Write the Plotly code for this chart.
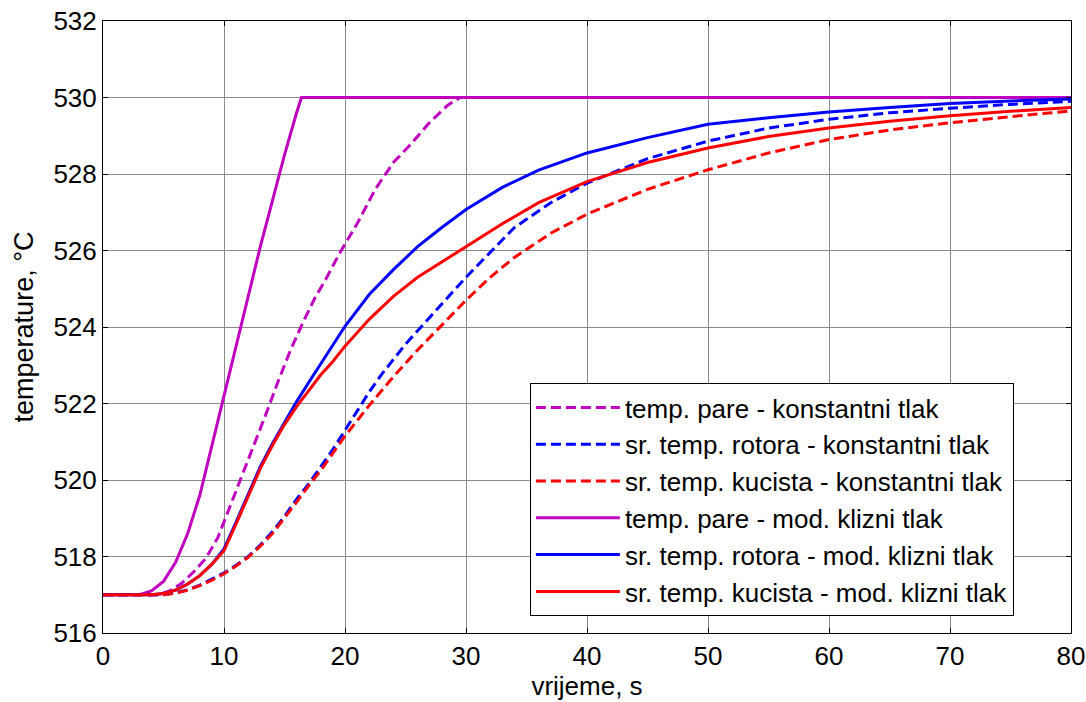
import plotly.graph_objects as go

# vrijeme [s] / temperatura [°C]
pare_konst_t = [0, 4.5, 5.5, 6.5, 7.5, 8.5, 9.5, 10.5, 11.5, 12.5, 13.5, 14.5, 15.5, 16.5,
                17.5, 18.5, 19.5, 21, 22.5, 24, 25.5, 27, 28.5, 29.5, 80]
pare_konst = [517, 517, 517.1, 517.3, 517.6, 517.95, 518.5, 519.3, 520.15, 520.95, 521.75,
              522.6, 523.4, 524.1, 524.75, 525.3, 525.9, 526.7, 527.6, 528.3, 528.8, 529.35,
              529.8, 530, 530]

rotor_konst_t = [0, 5, 6, 7, 8, 9, 10, 11, 12, 13, 14, 15, 16, 17, 18, 19, 20, 21, 22, 23,
                 24, 25, 26, 27, 28, 30, 32, 34, 37, 40, 45, 50, 55, 60, 65, 70, 75, 80]
rotor_konst = [517, 517, 517.05, 517.13, 517.25, 517.4, 517.57, 517.77, 518.0, 518.3, 518.65,
               519.05, 519.5, 519.9, 520.35, 520.8, 521.3, 521.8, 522.3, 522.75, 523.15,
               523.55, 523.9, 524.25, 524.6, 525.3, 525.95, 526.6, 527.25, 527.76, 528.4,
               528.86, 529.2, 529.43, 529.6, 529.72, 529.82, 529.9]

kuc_konst_t = [0, 5, 6, 7, 8, 9, 10, 11, 12, 13, 14, 15, 16, 17, 18, 19, 20, 21, 22, 24, 26,
               28, 30, 32, 34, 37, 40, 45, 50, 55, 60, 65, 70, 75, 80]
kuc_konst = [517, 517, 517.04, 517.12, 517.24, 517.38, 517.55, 517.75, 517.98, 518.27, 518.6,
             519.0, 519.42, 519.85, 520.25, 520.7, 521.15, 521.55, 521.95, 522.7, 523.4,
             524.05, 524.7, 525.3, 525.82, 526.45, 526.95, 527.6, 528.11, 528.55, 528.9,
             529.15, 529.34, 529.5, 529.65]

pare_mod_t = [0, 3, 4, 5, 6, 7, 8, 9, 10, 11, 12, 13, 14, 15, 16, 16.4, 80]
pare_mod = [517, 517, 517.1, 517.35, 517.85, 518.6, 519.6, 520.9, 522.2, 523.5, 524.8,
            526.1, 527.3, 528.5, 529.6, 530, 530]

rotor_mod_t = [0, 4, 5, 6, 7, 8, 9, 10, 11, 12, 13, 14, 15, 16, 17, 18, 19, 20, 22, 24, 26,
               28, 30, 33, 36, 40, 45, 50, 55, 60, 65, 70, 75, 80]
rotor_mod = [517, 517, 517.03, 517.12, 517.28, 517.5, 517.8, 518.2, 518.9, 519.65, 520.35,
             520.95, 521.5, 522.05, 522.55, 523.05, 523.55, 524.02, 524.85, 525.5, 526.1,
             526.6, 527.07, 527.65, 528.1, 528.55, 528.95, 529.3, 529.47, 529.62, 529.74,
             529.84, 529.91, 529.96]

kuc_mod_t = rotor_mod_t
kuc_mod = [517, 517, 517.03, 517.12, 517.28, 517.5, 517.8, 518.15, 518.85, 519.6, 520.3,
           520.9, 521.45, 521.92, 522.35, 522.75, 523.1, 523.5, 524.2, 524.8, 525.3, 525.7,
           526.09, 526.7, 527.25, 527.8, 528.3, 528.68, 528.98, 529.2, 529.38, 529.52,
           529.64, 529.74]

x_ticks = [0, 10, 20, 30, 40, 50, 60, 70, 80]
y_ticks = [516, 518, 520, 522, 524, 526, 528, 530, 532]

MAGENTA = '#BF00BF'
BLUE = '#0000FF'
RED = '#FF0000'
DASH = '10px,5px'
FONT = 'Liberation Sans, Arial, sans-serif'

series = [
    (pare_konst_t, pare_konst, MAGENTA, DASH, 'temp. pare - konstantni tlak'),
    (rotor_konst_t, rotor_konst, BLUE, DASH, 'sr. temp. rotora - konstantni tlak'),
    (kuc_konst_t, kuc_konst, RED, DASH, 'sr. temp. kucista - konstantni tlak'),
    (pare_mod_t, pare_mod, MAGENTA, 'solid', 'temp. pare - mod. klizni tlak'),
    (rotor_mod_t, rotor_mod, BLUE, 'solid', 'sr. temp. rotora - mod. klizni tlak'),
    (kuc_mod_t, kuc_mod, RED, 'solid', 'sr. temp. kucista - mod. klizni tlak'),
]

fig = go.Figure()
for idx, (t, y, color, dash, name) in enumerate(series):
    fig.add_trace(go.Scatter(
        x=t, y=y, mode='lines', name=name,
        line={'color': color, 'width': 3, 'dash': dash},
        legendgroup=f'g{idx}',
    ))

axis_style = dict(
    showline=True, linecolor='black', linewidth=1, mirror='ticks',
    ticks='inside', ticklen=5, tickcolor='black',
    showgrid=True, gridcolor='#8a8a8a', gridwidth=1,
    zeroline=False, automargin=False, ticklabeloverflow='allow',
    tickfont={'family': FONT, 'size': 26, 'color': 'black'},
)
fig.update_xaxes(range=[0, 80], tickvals=x_ticks, **axis_style,
                 title={'text': 'vrijeme, s', 'standoff': 0,
                        'font': {'family': FONT, 'size': 26, 'color': 'black'}})
fig.update_yaxes(range=[516, 532], tickvals=y_ticks, **axis_style,
                 title={'text': 'temperature, °C', 'standoff': 11,
                        'font': {'family': FONT, 'size': 27, 'color': 'black'}})

fig.update_layout(
    width=1086, height=702,
    margin=dict(l=103, r=15, t=21, b=69),
    plot_bgcolor='white', paper_bgcolor='white',
    showlegend=True,
    legend=dict(
        x=0.441, y=0.4085, xanchor='left', yanchor='top',
        bgcolor='white', bordercolor='black', borderwidth=1,
        font={'family': FONT, 'size': 26, 'color': 'black'},
        traceorder='grouped', tracegroupgap=0, itemwidth=84,
    ),
)

# drop the default body margin so the figure fills the window exactly
fig.write_html("out.html", config={'displayModeBar': False},
               post_script="document.body.style.margin='0';document.body.style.overflow='hidden';")
